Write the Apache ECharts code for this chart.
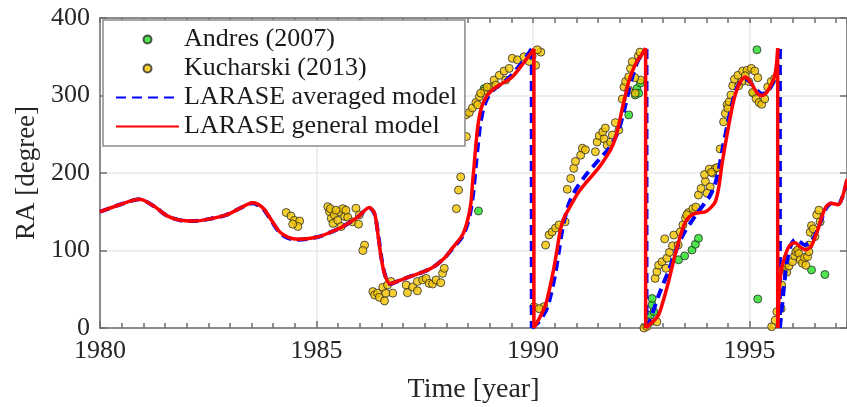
<!DOCTYPE html>
<html>
<head>
<meta charset="utf-8">
<script src="https://cdn.jsdelivr.net/npm/echarts@6/dist/echarts.min.js"></script>
<style>html,body{margin:0;padding:0;background:#fff;}#c{width:847px;height:407px;}</style>
</head>
<body>
<div id="c"></div>
<script>
// ---- data (year, RA in degrees) ----
const xTicks = [1980, 1985, 1990, 1995];
const yTicks = [0, 100, 200, 300, 400];

// LARASE general model, one array per 0..360 cycle
const general1 = [[1980,150],[1980.45,159],[1980.91,166],[1981.25,157],[1981.54,145],[1981.85,139],[1982.19,138],[1982.55,141],[1982.92,146],[1983.25,155],[1983.52,161.5],[1983.76,155],[1983.95,140],[1984.15,124],[1984.35,117],[1984.57,114.5],[1985,117],[1985.3,123],[1985.61,131],[1985.95,143],[1986.22,155.5],[1986.34,148],[1986.42,120],[1986.49,92],[1986.58,68],[1986.70,57],[1986.9,61],[1987.14,66],[1987.4,71],[1987.68,78],[1987.95,90],[1988.15,104],[1988.37,120],[1988.48,137],[1988.56,159],[1988.60,185],[1988.64,210],[1988.68,236],[1988.72,258],[1988.77,276],[1988.83,288],[1988.93,299],[1989.06,307],[1989.3,316],[1989.52,324],[1989.78,342],[1990.02,360]];
const general2 = [[1990.02,0],[1990.08,6],[1990.18,16],[1990.29,30],[1990.38,50],[1990.48,77],[1990.56,103],[1990.64,129],[1990.73,144],[1990.83,154],[1990.95,166],[1991.06,176],[1991.2,186],[1991.37,197],[1991.52,207],[1991.67,219],[1991.8,231],[1991.9,245],[1991.98,262],[1992.06,283],[1992.14,302],[1992.21,318],[1992.3,332],[1992.4,344],[1992.5,352],[1992.6,361]];
const general3 = [[1992.6,0],[1992.7,5],[1992.8,10],[1992.9,17],[1993.0,34],[1993.13,60],[1993.25,88],[1993.36,111],[1993.45,127],[1993.52,137],[1993.62,144],[1993.75,148],[1993.87,149],[1993.98,150],[1994.1,155],[1994.21,163],[1994.29,182],[1994.36,210],[1994.44,237],[1994.52,262],[1994.6,285],[1994.67,301],[1994.77,316],[1994.9,324],[1995.0,319],[1995.09,311],[1995.18,303],[1995.28,300],[1995.38,303],[1995.47,311],[1995.55,320],[1995.6,331],[1995.63,345],[1995.65,361]];
const general4 = [[1995.65,0],[1995.67,30],[1995.70,60],[1995.74,76],[1995.78,86],[1995.85,98],[1995.93,107],[1996.05,110],[1996.18,104],[1996.3,101],[1996.4,104],[1996.47,111],[1996.53,120],[1996.59,129],[1996.66,142],[1996.74,154],[1996.81,159],[1996.89,161],[1996.97,160],[1997.05,159],[1997.15,170],[1997.25,192]];

// LARASE averaged model
const averaged1 = [[1980,150],[1980.45,159],[1980.91,166],[1981.25,157],[1981.54,145],[1981.85,139],[1982.19,138],[1982.55,141],[1982.92,146],[1983.25,155],[1983.52,161],[1983.76,154],[1983.95,139],[1984.15,123],[1984.35,116],[1984.57,114],[1985,117],[1985.3,123],[1985.61,131],[1985.95,143],[1986.22,155],[1986.34,147],[1986.43,118],[1986.5,90],[1986.59,67],[1986.70,57],[1986.9,61],[1987.14,66],[1987.4,71],[1987.68,78],[1987.95,90],[1988.15,103],[1988.37,118],[1988.5,137],[1988.58,158],[1988.63,180],[1988.68,210],[1988.73,238],[1988.78,262],[1988.85,282],[1988.95,297],[1989.1,308],[1989.3,316],[1989.5,326],[1989.75,343],[1989.97,360]];
const averaged2 = [[1989.97,0],[1990.1,6],[1990.2,13],[1990.32,25],[1990.42,45],[1990.52,72],[1990.6,100],[1990.68,128],[1990.77,150],[1990.87,166],[1991.0,180],[1991.2,196],[1991.38,208],[1991.55,219],[1991.7,228],[1991.85,240],[1991.98,256],[1992.1,280],[1992.21,306],[1992.32,329],[1992.45,348],[1992.62,360]];
const averaged3 = [[1992.62,0],[1992.7,10],[1992.8,26],[1992.9,42],[1993.0,56],[1993.12,72],[1993.25,92],[1993.38,111],[1993.5,124],[1993.63,135],[1993.8,149],[1993.95,160],[1994.08,170],[1994.2,185],[1994.3,208],[1994.4,238],[1994.5,265],[1994.6,290],[1994.7,309],[1994.8,318],[1994.9,321],[1995.0,318],[1995.1,311],[1995.2,305],[1995.3,302],[1995.42,306],[1995.52,314],[1995.6,328],[1995.66,343],[1995.70,360]];
const averaged4 = [[1995.70,0],[1995.74,22],[1995.78,45],[1995.86,85],[1995.95,106],[1996.05,114],[1996.15,112],[1996.27,107],[1996.4,110],[1996.5,118],[1996.6,131],[1996.68,143],[1996.76,154],[1996.85,160],[1996.95,161],[1997.05,160],[1997.15,170],[1997.25,190]];

// Observations
const andres = [[1988.74,151],[1988.87,309],[1992.21,275],[1992.36,300.6],[1992.40,309],[1992.44,303],[1992.48,316],[1992.71,17],[1992.75,30],[1992.75,38],[1992.79,21],[1993.36,88],[1993.50,93],[1993.67,100.6],[1993.75,108],[1993.82,115.7],[1995.09,303],[1995.17,359],[1995.19,37.4],[1996.43,75],[1996.74,69]];
const kucharski = [
 [1984.30,149],[1984.41,144.5],[1984.49,139],[1984.61,138],[1984.57,131],[1984.45,134],
 [1985.26,156.5],[1985.30,150],[1985.34,141.5],[1985.38,135],[1985.41,146],[1985.49,139],[1985.53,150],[1985.61,154],[1985.65,144],[1985.72,143],[1985.57,131],[1985.83,137],[1985.91,154.5],[1985.99,146],[1985.97,134],[1985.32,154],[1985.45,152],[1985.68,152],
 [1986.11,107],[1986.07,100],
 [1986.30,47],[1986.34,42.6],[1986.41,45],[1986.45,39.6],[1986.57,35],[1986.53,52.5],[1986.64,55.5],[1986.72,60],[1986.76,45],[1986.60,45],[1987.07,55.5],[1987.10,45.5],[1987.22,53],[1987.33,48],[1987.33,60],[1987.45,62],[1987.53,64],[1987.60,57.6],[1987.68,56.8],[1987.76,62],[1987.87,58.5],[1987.91,70.5],[1987.95,77],
 [1988.33,195],[1988.28,178],[1988.23,154],[1988.46,247],[1988.45,275],[1988.53,278],[1988.60,284],[1988.68,291],[1988.76,298.5],[1988.87,306],[1989.03,311],[1989.10,320],[1989.22,326],[1989.33,331.6],[1989.45,335],[1989.52,348],[1989.64,346],[1989.79,350],[1989.91,344],[1990.06,339],[1990.18,356],[1989.98,351],[1990.10,359],[1989.14,313.5],[1989.37,320],[1988.94,311],[1988.79,303],[1988.72,288],
 [1990.02,27.5],[1990.25,27.5],[1990.14,25],
 [1990.29,107],[1990.37,120],[1990.44,124],[1990.52,129],[1990.60,133],[1990.74,137],[1990.79,179],[1990.87,193],[1990.94,206],[1990.98,215],[1991.10,223],[1991.14,232],[1991.21,230],
 [1991.44,227.5],[1991.48,240],[1991.53,248],[1991.61,253],[1991.67,258],[1991.64,244],[1991.71,236],[1991.79,240],[1991.83,249],[1991.90,265],[1991.98,255.5],[1992.06,295.5],[1992.10,311],[1992.14,318],[1992.21,324],[1992.25,335],[1992.29,343.6],[1992.43,351],[1992.47,356],[1992.48,320],[1992.35,323],[1992.21,307],[1992.36,303],
 [1992.56,0],[1992.63,2],[1992.71,8],[1992.86,8],
 [1992.82,64],[1992.86,72.6],[1992.90,81],[1992.98,85.5],[1993.07,77],[1993.09,90],[1993.15,97.6],[1993.22,106],[1993.04,115],[1993.25,120],[1993.35,107],[1993.40,124],[1993.46,133],[1993.52,141.5],[1993.59,149],[1993.69,154],[1993.76,156],[1993.55,146],[1993.82,171.6],[1993.88,180],[1993.98,189],[1993.96,198],[1994.07,205],[1994.15,200],[1994.21,206],[1994.09,182],[1994.02,174],[1994.32,231],[1994.40,266],[1994.44,277],[1994.48,288],
 [1994.50,283.5],[1994.53,292],[1994.57,300.6],[1994.61,312.6],[1994.65,321],[1994.73,326],[1994.84,331.6],[1994.94,332.5],[1995.04,335],[1995.12,331.6],[1995.19,323],[1994.98,318],[1995.07,304],[1995.15,296],[1995.22,291],[1995.28,288.6],[1995.35,295.5],[1995.42,311],[1995.50,318],[1995.58,322],[1994.90,325.5],[1994.82,318],[1994.75,312.6],[1994.12,201],[1994.25,207],
 [1995.51,1.7],[1995.59,10],[1995.63,21],[1995.73,25],[1995.74,55.5],[1995.78,77],[1995.84,83.5],[1995.86,72],[1995.91,80],[1995.99,85.5],[1996.04,93],[1996.07,98.5],[1996.11,100.6],[1996.14,96],[1996.17,88],[1996.22,83.5],[1996.27,91],[1996.30,81],[1996.34,92],[1996.37,98.5],[1996.37,107],[1996.40,123.5],[1996.43,132],[1996.47,128],[1996.55,146],[1996.60,152],[1996.63,137],[1996.51,118]
];

const names = ['Andres (2007)', 'Kucharski (2013)', 'LARASE averaged model', 'LARASE general model'];

// Split a model into smooth cycles joined by straight wrap-around drops
function parts(segs) {
  const res = [];
  segs.forEach((s, i) => {
    if (i > 0) {
      const prev = segs[i - 1];
      res.push({data: [prev[prev.length - 1], s[0]], smooth: false});
    }
    res.push({data: s, smooth: 0.3});
  });
  return res;
}

const FONT = 'Liberation Serif';
const AXC = '#6e6e6e';
const TXT = '#262626';

const series = [];
series.push({
  name: names[0], type: 'scatter', data: andres, symbol: 'circle', symbolSize: 8,
  itemStyle: {color: '#22dd22', borderColor: '#2a2a2a', borderWidth: 1}, z: 3
});
series.push({
  name: names[1], type: 'scatter', data: kucharski, symbol: 'circle', symbolSize: 8,
  itemStyle: {color: '#f4c400', borderColor: '#2a2a2a', borderWidth: 1}, z: 3
});
parts([averaged1, averaged2, averaged3, averaged4]).forEach(p => series.push({
  name: names[2], type: 'line', data: p.data, smooth: p.smooth, symbol: 'none', z: 4,
  lineStyle: {color: '#0000ff', width: 4, type: [10, 6]}, itemStyle: {color: '#0000ff'}
}));
parts([general1, general2, general3, general4]).forEach(p => series.push({
  name: names[3], type: 'line', data: p.data, smooth: p.smooth, symbol: 'none', z: 5,
  lineStyle: {color: '#ff0000', width: 3.5}, itemStyle: {color: '#ff0000'}
}));

const chart = echarts.init(document.getElementById('c'), null, {renderer: 'canvas'});
chart.setOption({
  animation: false,
  backgroundColor: '#ffffff',
  grid: {left: 100, right: 0, top: 18, bottom: 79, containLabel: false, outerBoundsMode: 'none'},
  legend: {
    data: [
      {name: names[0]},
      {name: names[1]},
      {name: names[2], itemStyle: {opacity: 0}},
      {name: names[3], itemStyle: {opacity: 0}}
    ],
    orient: 'vertical',
    left: 103, top: 20,
    itemWidth: 63, itemHeight: 8, itemGap: 0,
    padding: [5, 8, 5, 12],
    backgroundColor: '#ffffff',
    borderColor: '#8a8a8a', borderWidth: 1.5,
    textStyle: {fontFamily: FONT, fontSize: 26, color: '#1a1a1a', lineHeight: 29}
  },
  xAxis: [
    {
      type: 'value', min: 1980, max: 1997.25, interval: 5, position: 'bottom',
      name: 'Time [year]', nameLocation: 'middle', nameGap: 48,
      nameTextStyle: {fontFamily: FONT, fontSize: 28, color: TXT},
      axisLine: {show: true, onZero: false, lineStyle: {color: AXC, width: 1.5}},
      axisTick: {show: true, inside: true, length: 7, lineStyle: {color: AXC, width: 1.5}},
      axisLabel: {fontFamily: FONT, fontSize: 26, color: TXT, margin: 10,
        formatter: v => (xTicks.indexOf(Math.round(v * 100) / 100) >= 0 ? String(v) : '')},
      splitLine: {show: true, lineStyle: {color: '#e8e8e8', width: 1.5}}
    },
    {
      type: 'value', min: 1980, max: 1997.25, interval: 0.5, position: 'top',
      axisLine: {show: true, onZero: false, lineStyle: {color: AXC, width: 1.5}},
      axisTick: {show: true, inside: true, length: 5, lineStyle: {color: AXC, width: 1.5}},
      axisLabel: {show: false}, splitLine: {show: false}
    },
    {
      type: 'value', min: 1980, max: 1997.25, interval: 0.5, position: 'bottom',
      axisLine: {show: false, onZero: false},
      axisTick: {show: true, inside: true, length: 5, lineStyle: {color: AXC, width: 1.5}},
      axisLabel: {show: false}, splitLine: {show: false}
    }
  ],
  yAxis: [
    {
      type: 'value', min: 0, max: 400, interval: 100, position: 'left',
      name: 'RA [degree]', nameLocation: 'middle', nameGap: 58, nameRotate: 90,
      nameTextStyle: {fontFamily: FONT, fontSize: 27, color: TXT},
      axisLine: {show: true, onZero: false, lineStyle: {color: AXC, width: 1.5}},
      axisTick: {show: true, inside: true, length: 7, lineStyle: {color: AXC, width: 1.5}},
      axisLabel: {fontFamily: FONT, fontSize: 26, color: TXT, margin: 10,
        formatter: v => (yTicks.indexOf(v) >= 0 ? String(v) : '')},
      splitLine: {show: true, lineStyle: {color: '#e8e8e8', width: 1.5}}
    },
    {
      type: 'value', min: 0, max: 400, interval: 100, position: 'right',
      axisLine: {show: true, onZero: false, lineStyle: {color: AXC, width: 1.5}},
      axisTick: {show: true, inside: true, length: 7, lineStyle: {color: AXC, width: 1.5}},
      axisLabel: {show: false}, splitLine: {show: false}
    }
  ],
  series: series
});
</script>
</body>
</html>
